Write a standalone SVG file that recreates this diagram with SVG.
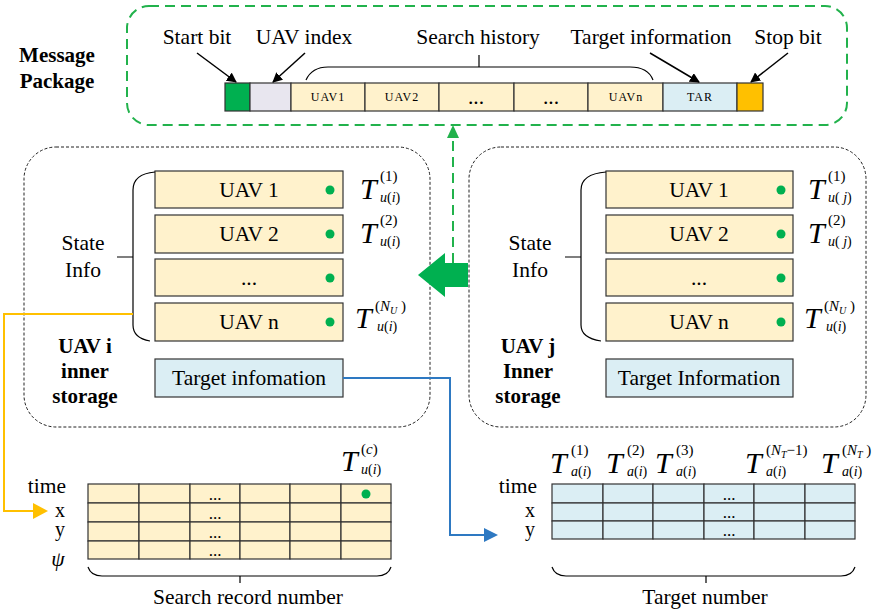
<svg xmlns="http://www.w3.org/2000/svg" width="873" height="612" viewBox="0 0 873 612" font-family="'Liberation Serif','Times New Roman','DejaVu Serif',serif">
<style>
text,tspan{font-family:"Liberation Serif","Times New Roman","DejaVu Serif",serif}
text{fill:#000}
.lbl{font-size:21.5px}
.rl{font-size:20px}
.b{font-size:21px;font-weight:bold}
.mid{text-anchor:middle}
.end{text-anchor:end}
.sm{font-size:12px;letter-spacing:1px}
.dots{font-size:17px}
.T{font-size:30px;font-style:italic}
.sup{font-size:15px}
.sub{font-size:14px}
.it{font-style:italic}
.cellY{fill:#fff2cc;stroke:#333;stroke-width:1.2}
.cellB{fill:#dbeef4;stroke:#333;stroke-width:1.2}
.box{fill:none;stroke:#222;stroke-width:1;stroke-dasharray:3,2}
.dot{fill:#00b050}
.thin{fill:none;stroke:#000;stroke-width:1.2}
.gline{fill:none;stroke:#22b24c;stroke-width:2;stroke-dasharray:10,6}
</style>
<defs>
<marker id="ah" viewBox="0 0 10 10" refX="9" refY="5" markerWidth="10" markerHeight="10" markerUnits="userSpaceOnUse" orient="auto">
<path d="M0,0 L10,5 L0,10 z" fill="#000"/>
</marker>
</defs>

<g id="message-package">
<rect x="127" y="6" width="720" height="119" rx="22" ry="22" class="gline"/>
<text class="b mid" x="57" y="62">Message</text>
<text class="b mid" x="57" y="88">Package</text>
<rect x="225" y="83" width="25" height="28" fill="#00b050" stroke="#333" stroke-width="1.2"/>
<rect x="250" y="83" width="41" height="28" fill="#e8e6ef" stroke="#333" stroke-width="1.2"/>
<rect x="291" y="83" width="74" height="28" class="cellY"/>
<rect x="365" y="83" width="74" height="28" class="cellY"/>
<rect x="439" y="83" width="75" height="28" class="cellY"/>
<rect x="514" y="83" width="74" height="28" class="cellY"/>
<rect x="588" y="83" width="75" height="28" class="cellY"/>
<rect x="663" y="83" width="74" height="28" class="cellB"/>
<rect x="737" y="83" width="26" height="28" fill="#ffc000" stroke="#333" stroke-width="1.2"/>
<text class="sm mid" x="328" y="101">UAV1</text>
<text class="sm mid" x="402" y="101">UAV2</text>
<text class="lbl mid" x="476" y="104">...</text>
<text class="lbl mid" x="551" y="104">...</text>
<text class="sm mid" x="626" y="101">UAVn</text>
<text class="sm mid" x="700" y="101">TAR</text>
<text class="lbl mid" x="197" y="44">Start bit</text>
<text class="lbl mid" x="304" y="44">UAV index</text>
<text class="lbl mid" x="478" y="44">Search history</text>
<text class="lbl mid" x="651" y="44">Target information</text>
<text class="lbl mid" x="788" y="44">Stop bit</text>
<path class="thin" d="M306,80 Q312,67 328,67 H630 Q648,67 653,80 M479,67 V55"/>
<line x1="197" y1="53" x2="236" y2="82" stroke="#000" stroke-width="1.5" marker-end="url(#ah)"/>
<line x1="305" y1="53" x2="273" y2="82" stroke="#000" stroke-width="1.5" marker-end="url(#ah)"/>
<line x1="650" y1="53" x2="699" y2="82" stroke="#000" stroke-width="1.5" marker-end="url(#ah)"/>
<line x1="788" y1="53" x2="751" y2="82" stroke="#000" stroke-width="1.5" marker-end="url(#ah)"/>
</g>

<g id="uav-i-storage">
<rect x="24" y="147" width="406" height="280" rx="32" ry="32" class="box"/>
<rect x="155" y="171" width="188" height="37" class="cellY"/>
<rect x="155" y="215" width="188" height="38" class="cellY"/>
<rect x="155" y="259" width="188" height="37" class="cellY"/>
<rect x="155" y="303" width="188" height="38" class="cellY"/>
<rect x="155" y="359" width="188" height="38" class="cellB"/>
<text class="lbl mid" x="249" y="197">UAV 1</text>
<text class="lbl mid" x="249" y="241">UAV 2</text>
<text class="lbl mid" x="249" y="285">...</text>
<text class="lbl mid" x="249" y="329">UAV n</text>
<text class="lbl mid" x="249" y="385">Target infomation</text>
<circle class="dot" cx="330" cy="190" r="4.5"/>
<circle class="dot" cx="330" cy="234" r="4.5"/>
<circle class="dot" cx="330" cy="278" r="4.5"/>
<circle class="dot" cx="330" cy="322" r="4.5"/>
<text class="lbl mid" x="83" y="250">State</text>
<text class="lbl mid" x="83" y="277">Info</text>
<path class="thin" d="M155,172 Q133,174 133,190 V325 Q133,338 150,341 M117,257 H133"/>
<text class="b mid" x="85" y="353">UAV i</text>
<text class="b mid" x="85" y="378">inner</text>
<text class="b mid" x="85" y="403">storage</text>
<text class="T" x="360" y="199">T</text><text class="sup" x="380" y="181">(1)</text><text class="sub" x="380" y="202"><tspan class="it">u</tspan>(<tspan class="it">i</tspan>)</text>
<text class="T" x="360" y="243">T</text><text class="sup" x="380" y="225">(2)</text><text class="sub" x="380" y="246"><tspan class="it">u</tspan>(<tspan class="it">i</tspan>)</text>
<text class="T" x="355" y="328">T</text><text class="sup" x="375" y="311">(<tspan class="it">N</tspan><tspan font-size="10" dy="3" class="it">U</tspan><tspan dy="-3"> )</tspan></text><text class="sub" x="377" y="331"><tspan class="it">u</tspan>(<tspan class="it">i</tspan>)</text>
</g>

<g id="uav-j-storage">
<rect x="469" y="147" width="397" height="280" rx="32" ry="32" class="box"/>
<rect x="606" y="171" width="187" height="37" class="cellY"/>
<rect x="606" y="215" width="187" height="38" class="cellY"/>
<rect x="606" y="259" width="187" height="37" class="cellY"/>
<rect x="606" y="303" width="187" height="38" class="cellY"/>
<rect x="606" y="359" width="187" height="38" class="cellB"/>
<text class="lbl mid" x="699" y="197">UAV 1</text>
<text class="lbl mid" x="699" y="241">UAV 2</text>
<text class="lbl mid" x="699" y="285">...</text>
<text class="lbl mid" x="699" y="329">UAV n</text>
<text class="lbl mid" x="699" y="385">Target Information</text>
<circle class="dot" cx="781" cy="190" r="4.5"/>
<circle class="dot" cx="781" cy="234" r="4.5"/>
<circle class="dot" cx="781" cy="278" r="4.5"/>
<circle class="dot" cx="781" cy="322" r="4.5"/>
<text class="lbl mid" x="530" y="250">State</text>
<text class="lbl mid" x="530" y="277">Info</text>
<path class="thin" d="M606,172 Q581,174 581,190 V325 Q581,338 601,341 M565,257 H581"/>
<text class="b mid" x="528" y="353">UAV j</text>
<text class="b mid" x="528" y="378">Inner</text>
<text class="b mid" x="528" y="403">storage</text>
<text class="T" x="808" y="199">T</text><text class="sup" x="828" y="181">(1)</text><text class="sub" x="828" y="202"><tspan class="it">u</tspan>( <tspan class="it">j</tspan>)</text>
<text class="T" x="808" y="243">T</text><text class="sup" x="828" y="225">(2)</text><text class="sub" x="828" y="246"><tspan class="it">u</tspan>( <tspan class="it">j</tspan>)</text>
<text class="T" x="804" y="328">T</text><text class="sup" x="824" y="311">(<tspan class="it">N</tspan><tspan font-size="10" dy="3" class="it">U</tspan><tspan dy="-3"> )</tspan></text><text class="sub" x="826" y="331"><tspan class="it">u</tspan>(<tspan class="it">i</tspan>)</text>
</g>

<g id="search-record-table">
<rect x="88" y="484" width="51" height="19" class="cellY"/><rect x="139" y="484" width="51" height="19" class="cellY"/><rect x="190" y="484" width="50" height="19" class="cellY"/><rect x="240" y="484" width="50" height="19" class="cellY"/><rect x="290" y="484" width="51" height="19" class="cellY"/><rect x="341" y="484" width="50" height="19" class="cellY"/>
<rect x="88" y="503" width="51" height="19" class="cellY"/><rect x="139" y="503" width="51" height="19" class="cellY"/><rect x="190" y="503" width="50" height="19" class="cellY"/><rect x="240" y="503" width="50" height="19" class="cellY"/><rect x="290" y="503" width="51" height="19" class="cellY"/><rect x="341" y="503" width="50" height="19" class="cellY"/>
<rect x="88" y="522" width="51" height="19" class="cellY"/><rect x="139" y="522" width="51" height="19" class="cellY"/><rect x="190" y="522" width="50" height="19" class="cellY"/><rect x="240" y="522" width="50" height="19" class="cellY"/><rect x="290" y="522" width="51" height="19" class="cellY"/><rect x="341" y="522" width="50" height="19" class="cellY"/>
<rect x="88" y="541" width="51" height="18" class="cellY"/><rect x="139" y="541" width="51" height="18" class="cellY"/><rect x="190" y="541" width="50" height="18" class="cellY"/><rect x="240" y="541" width="50" height="18" class="cellY"/><rect x="290" y="541" width="51" height="18" class="cellY"/><rect x="341" y="541" width="50" height="18" class="cellY"/>
<text class="dots mid" x="215" y="500">...</text>
<text class="dots mid" x="215" y="519">...</text>
<text class="dots mid" x="215" y="538">...</text>
<text class="dots mid" x="215" y="556">...</text>
<circle class="dot" cx="366" cy="494" r="4.5"/>
<text class="lbl end" x="66" y="493">time</text>
<text class="rl mid" x="60" y="517">x</text>
<text class="rl mid" x="60" y="536">y</text>
<text class="lbl mid it" x="58" y="566">ψ</text>
<path class="thin" d="M88,567 Q91,576 102,576 H377 Q388,576 391,567 M240,576 V583"/>
<text class="lbl mid" x="248" y="604">Search record number</text>
<text class="T" x="341" y="471">T</text><text class="sup" x="361" y="454">(<tspan class="it">c</tspan>)</text><text class="sub" x="361" y="474"><tspan class="it">u</tspan>(<tspan class="it">i</tspan>)</text>
</g>

<g id="target-table">
<rect x="552" y="484" width="51" height="19" class="cellB"/><rect x="603" y="484" width="50" height="19" class="cellB"/><rect x="653" y="484" width="51" height="19" class="cellB"/><rect x="704" y="484" width="50" height="19" class="cellB"/><rect x="754" y="484" width="51" height="19" class="cellB"/><rect x="805" y="484" width="50" height="19" class="cellB"/>
<rect x="552" y="503" width="51" height="18" class="cellB"/><rect x="603" y="503" width="50" height="18" class="cellB"/><rect x="653" y="503" width="51" height="18" class="cellB"/><rect x="704" y="503" width="50" height="18" class="cellB"/><rect x="754" y="503" width="51" height="18" class="cellB"/><rect x="805" y="503" width="50" height="18" class="cellB"/>
<rect x="552" y="521" width="51" height="18" class="cellB"/><rect x="603" y="521" width="50" height="18" class="cellB"/><rect x="653" y="521" width="51" height="18" class="cellB"/><rect x="704" y="521" width="50" height="18" class="cellB"/><rect x="754" y="521" width="51" height="18" class="cellB"/><rect x="805" y="521" width="50" height="18" class="cellB"/>
<text class="dots mid" x="729" y="500">...</text>
<text class="dots mid" x="729" y="518">...</text>
<text class="dots mid" x="729" y="536">...</text>
<text class="lbl end" x="537" y="493">time</text>
<text class="rl mid" x="530" y="517">x</text>
<text class="rl mid" x="530" y="536">y</text>
<path class="thin" d="M552,567 Q555,576 566,576 H841 Q852,576 855,567 M706,576 V583"/>
<text class="lbl mid" x="705" y="604">Target number</text>
<text class="T" x="550" y="473">T</text><text class="sup" x="571" y="455">(1)</text><text class="sub" x="571" y="476"><tspan class="it">a</tspan>(<tspan class="it">i</tspan>)</text>
<text class="T" x="606" y="473">T</text><text class="sup" x="627" y="455">(2)</text><text class="sub" x="627" y="476"><tspan class="it">a</tspan>(<tspan class="it">i</tspan>)</text>
<text class="T" x="655" y="473">T</text><text class="sup" x="676" y="455">(3)</text><text class="sub" x="676" y="476"><tspan class="it">a</tspan>(<tspan class="it">i</tspan>)</text>
<text class="T" x="745" y="473">T</text><text class="sup" x="766" y="455">(<tspan class="it">N</tspan><tspan font-size="10" dy="3" class="it">T</tspan><tspan dy="-3">−1)</tspan></text><text class="sub" x="766" y="476"><tspan class="it">a</tspan>(<tspan class="it">i</tspan>)</text>
<text class="T" x="821" y="473">T</text><text class="sup" x="842" y="455">(<tspan class="it">N</tspan><tspan font-size="10" dy="3" class="it">T</tspan><tspan dy="-3"> )</tspan></text><text class="sub" x="842" y="476"><tspan class="it">a</tspan>(<tspan class="it">i</tspan>)</text>
</g>

<g id="connectors">
<polygon points="418,275 445,253 445,263 468,263 468,287 445,287 445,297" fill="#00b050"/>
<line x1="453" y1="263" x2="453" y2="138" class="gline"/>
<polygon points="453,125 447,138 459,138" fill="#22b24c"/>
<path d="M133,314 H4 V511 H34" fill="none" stroke="#ffc000" stroke-width="2"/>
<polygon points="33,503 48,511 33,519" fill="#ffc000"/>
<path d="M343,378 H450 V535 H485" fill="none" stroke="#2e79c2" stroke-width="2"/>
<polygon points="484,528 498,535 484,542" fill="#2e79c2"/>
</g>
</svg>
